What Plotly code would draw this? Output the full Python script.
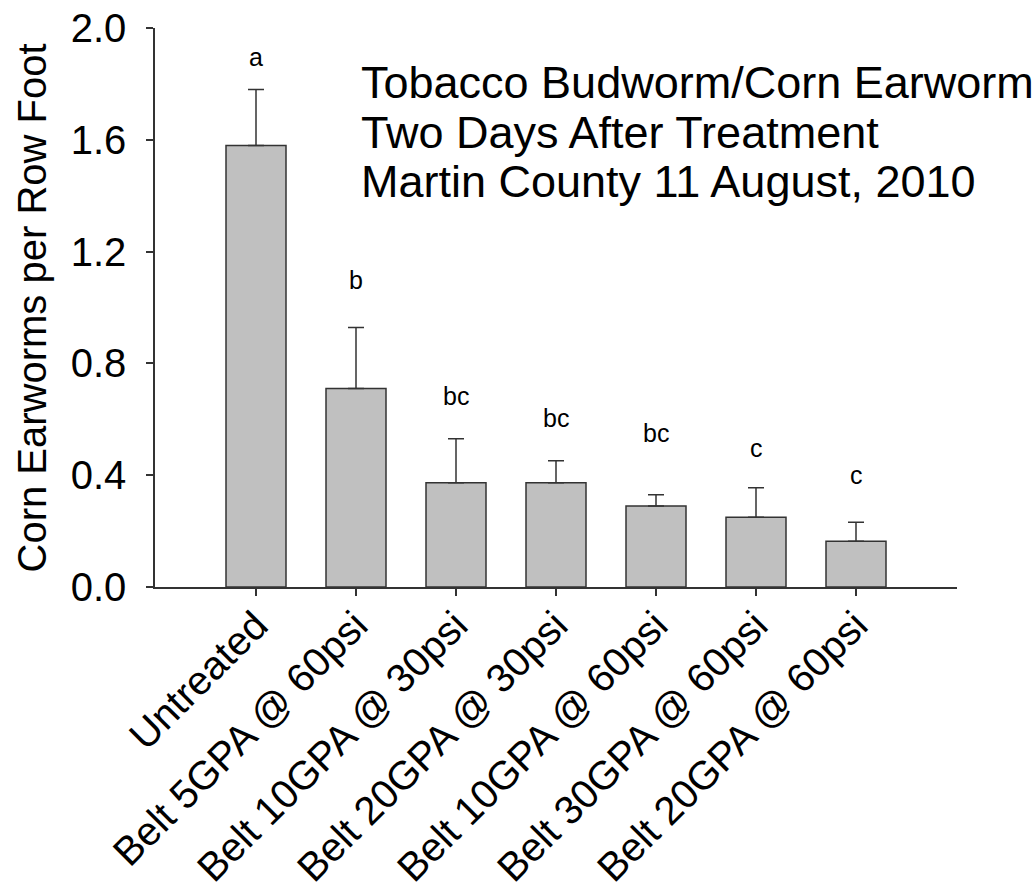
import plotly.graph_objects as go

categories = ["Untreated", "Belt 5GPA @ 60psi", "Belt 10GPA @ 30psi", "Belt 20GPA @ 30psi",
              "Belt 10GPA @ 60psi", "Belt 30GPA @ 60psi", "Belt 20GPA @ 60psi"]
means = [1.58, 0.71, 0.373, 0.373, 0.29, 0.25, 0.164]
sem = [0.20, 0.218, 0.157, 0.079, 0.04, 0.105, 0.068]
letters = ["a", "b", "bc", "bc", "bc", "c", "c"]
letter_y = [1.895, 1.099, 0.683, 0.606, 0.552, 0.496, 0.400]
title_lines = ["Tobacco Budworm/Corn Earworm", "Two Days After Treatment",
               "Martin County 11 August, 2010"]
title_y = [1.805, 1.626, 1.450]
y_ticks = [0.0, 0.4, 0.8, 1.2, 1.6, 2.0]

FONT = "Arial, Liberation Sans, Helvetica, sans-serif"
AX = "#333333"

fig = go.Figure()
fig.add_trace(go.Bar(
    x=categories, y=means, width=0.6,
    marker=dict(color="#c0c0c0", line=dict(color=AX, width=1.5)),
    error_y=dict(type="data", symmetric=False, array=sem, arrayminus=[0] * len(sem),
                 color=AX, thickness=1.5, width=8),
))

annotations = []
for c, l, yy in zip(categories, letters, letter_y):
    annotations.append(dict(x=c, y=yy, xref="x", yref="y", text=l, showarrow=False,
                            font=dict(family=FONT, size=25, color="black"),
                            xanchor="center", yanchor="middle"))
for t, yy in zip(title_lines, title_y):
    annotations.append(dict(x=1.03, y=yy, xref="x", yref="y", text=t, showarrow=False,
                            font=dict(family=FONT, size=45, color="black"),
                            xanchor="left", yanchor="middle"))
annotations.append(dict(x=-0.1534, y=0.5, xref="paper", yref="paper",
                        text="Corn Earworms per Row Foot", textangle=-90, showarrow=False,
                        font=dict(family=FONT, size=40, color="black"),
                        xanchor="center", yanchor="middle"))

fig.update_layout(
    width=1036, height=890,
    margin=dict(l=155, r=79, t=28, b=303, pad=0, autoexpand=False),
    paper_bgcolor="white", plot_bgcolor="white",
    showlegend=False,
    annotations=annotations,
    font=dict(family=FONT, color="black"),
)
fig.update_xaxes(
    range=[-1.01, 7.01], showline=True, linecolor=AX, linewidth=1.5,
    ticks="outside", ticklen=7, tickwidth=1.5, tickcolor=AX,
    tickangle=-45, tickfont=dict(family=FONT, size=40, color="black"),
    ticklabelstandoff=-10,
    showgrid=False, zeroline=False, automargin=False,
)
fig.update_yaxes(
    range=[0, 2.0], tickvals=y_ticks, tickformat=".1f",
    showline=True, linecolor=AX, linewidth=1.5,
    ticks="outside", ticklen=7, tickwidth=1.5, tickcolor=AX,
    tickfont=dict(family=FONT, size=40, color="black"),
    ticklabelstandoff=12, automargin=False,
    showgrid=False, zeroline=False,
)

fig.write_html("out.html", config={"displayModeBar": False},
               post_script="document.body.style.margin='0';")
